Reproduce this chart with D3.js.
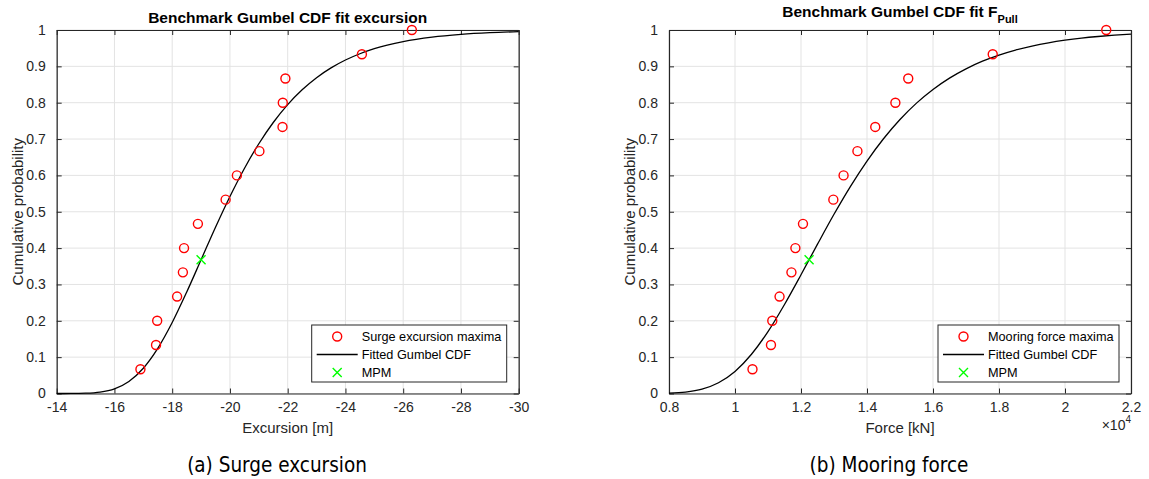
<!DOCTYPE html>
<html>
<head>
<meta charset="utf-8">
<script src="https://cdn.jsdelivr.net/npm/d3@7/dist/d3.min.js"></script>
<style>
    body { margin: 0; background: #fff; }
    svg { font-family: 'Liberation Sans', Arial, Helvetica, sans-serif; }
</style>
</head>
<body>
<svg id="chart" width="1149" height="479"></svg>
<script>
// empirical probabilities of the 15 ranked maxima
const probLevels = [0.0667, 0.1333, 0.2, 0.2667, 0.3333, 0.4, 0.4667, 0.5333, 0.6, 0.6667, 0.7333, 0.8, 0.8667, 0.9333, 1];

// (a) surge excursion [m]
const surgeMaxima = [-16.90, -17.44, -17.48, -18.17, -18.37, -18.41, -18.89, -19.85, -20.24, -21.02, -21.82, -21.83, -21.92, -24.57, -26.30];
const surgeCurveX = [-14, -14.5, -15, -15.5, -16, -16.5, -17, -17.5, -18, -18.5, -19, -19.5, -20, -20.5, -21, -21.5, -22, -22.5, -23, -23.5, -24, -24.5, -25, -26, -27, -28, -29, -30];
const surgeCurveP = [0.0000, 0.0001, 0.0008, 0.0038, 0.0129, 0.0332, 0.0696, 0.1242, 0.1953, 0.2786, 0.3679, 0.4572, 0.5419, 0.6191, 0.6871, 0.7455, 0.7947, 0.8354, 0.8687, 0.8957, 0.9174, 0.9347, 0.9486, 0.9681, 0.9804, 0.9879, 0.9926, 0.9955];
const surgeMPM = [-19.0, 0.3679];
const surgeTicks = [-14, -16, -18, -20, -22, -24, -26, -28, -30];

// (b) mooring force [kN]
const forceMaxima = [10530, 11090, 11130, 11350, 11710, 11830, 12060, 12980, 13290, 13710, 14250, 14860, 15250, 17810, 21250];
const forceCurveX = [8000, 8500, 9000, 9500, 10000, 10500, 11000, 11500, 12000, 12500, 13000, 13500, 14000, 14500, 15000, 15500, 16000, 16500, 17000, 17500, 18000, 18500, 19000, 19500, 20000, 20500, 21000, 21500, 22000];
const forceCurveP = [0.0009, 0.0038, 0.0119, 0.0295, 0.0607, 0.1080, 0.1703, 0.2449, 0.3266, 0.4108, 0.4930, 0.5699, 0.6395, 0.7008, 0.7538, 0.7988, 0.8364, 0.8676, 0.8932, 0.9142, 0.9311, 0.9449, 0.9559, 0.9648, 0.9719, 0.9776, 0.9821, 0.9858, 0.9887];
const forceMPM = [12245, 0.3679];
const forceTicks = [8000, 10000, 12000, 14000, 16000, 18000, 20000, 22000];

const probTicks = [0, 0.1, 0.2, 0.3, 0.4, 0.5, 0.6, 0.7, 0.8, 0.9, 1];

const axisColor = '#262626',
      gridColor = '#e3e3e3';

// plain hyphen for negatives, like the original
const numFmt = d => String(+d.toFixed(4));

const svg = d3.select('#chart');

const drawPanel = (cfg) => {
    const xScale = d3.scaleLinear().domain(cfg.xDomain).range([cfg.left, cfg.right]);
    const yScale = d3.scaleLinear().domain([0, 1]).range([cfg.bottom, cfg.top]);

    const g = svg.append('g');

    // grid
    g.selectAll('.grid-x')
        .data(cfg.xTicks)
        .enter()
        .append('line')
        .attr('x1', d => xScale(d)).attr('x2', d => xScale(d))
        .attr('y1', cfg.top).attr('y2', cfg.bottom)
        .attr('stroke', gridColor).attr('stroke-width', 1);

    g.selectAll('.grid-y')
        .data(probTicks)
        .enter()
        .append('line')
        .attr('x1', cfg.left).attr('x2', cfg.right)
        .attr('y1', d => yScale(d)).attr('y2', d => yScale(d))
        .attr('stroke', gridColor).attr('stroke-width', 1);

    // axes, ticks inside on all four sides
    const xBottom = d3.axisBottom(xScale).tickValues(cfg.xTicks).tickSizeInner(-5).tickSizeOuter(0).tickPadding(9).tickFormat(cfg.xFormat);
    const xTop = d3.axisTop(xScale).tickValues(cfg.xTicks).tickSizeInner(-5).tickSizeOuter(0).tickFormat('');
    const yLeft = d3.axisLeft(yScale).tickValues(probTicks).tickSizeInner(-5).tickSizeOuter(0).tickPadding(11).tickFormat(numFmt);
    const yRight = d3.axisRight(yScale).tickValues(probTicks).tickSizeInner(-5).tickSizeOuter(0).tickFormat('');

    const styleAxis = sel => {
        sel.attr('font-family', null).attr('font-size', null);
        sel.select('.domain').attr('stroke', axisColor).attr('stroke-width', 1.2);
        sel.selectAll('.tick line').attr('stroke', axisColor).attr('stroke-width', 1);
        sel.selectAll('.tick text').attr('fill', axisColor).attr('font-size', '14px');
    };

    g.append('g').attr('transform', `translate(0,${cfg.bottom})`).call(xBottom).call(styleAxis);
    g.append('g').attr('transform', `translate(0,${cfg.top})`).call(xTop).call(styleAxis);
    g.append('g').attr('transform', `translate(${cfg.left},0)`).call(yLeft).call(styleAxis);
    g.append('g').attr('transform', `translate(${cfg.right},0)`).call(yRight).call(styleAxis);

    // fitted curve
    const line = d3.line()
        .x(d => xScale(d[0]))
        .y(d => yScale(d[1]))
        .curve(d3.curveMonotoneX);

    g.append('path')
        .datum(cfg.curveX.map((x, i) => [x, cfg.curveP[i]]))
        .attr('d', line)
        .attr('fill', 'none')
        .attr('stroke', '#000')
        .attr('stroke-width', 1.3);

    // maxima
    g.selectAll('.maxima')
        .data(cfg.maxima.map((x, i) => [x, probLevels[i]]))
        .enter()
        .append('circle')
        .attr('cx', d => xScale(d[0]))
        .attr('cy', d => yScale(d[1]))
        .attr('r', 4.5)
        .attr('fill', 'none')
        .attr('stroke', '#ff0000')
        .attr('stroke-width', 1.4);

    // MPM cross
    const cross = (sel, cx, cy, s) => {
        sel.append('path')
            .attr('d', `M${cx - s},${cy - s}L${cx + s},${cy + s}M${cx - s},${cy + s}L${cx + s},${cy - s}`)
            .attr('stroke', '#00ff00')
            .attr('stroke-width', 1.4)
            .attr('fill', 'none');
    };
    cross(g, xScale(cfg.mpm[0]), yScale(cfg.mpm[1]), 4.5);

    // labels
    g.append('text')
        .attr('x', (cfg.left + cfg.right) / 2)
        .attr('y', 433)
        .attr('text-anchor', 'middle')
        .attr('font-size', '15px')
        .attr('fill', axisColor)
        .text(cfg.xLabel);

    g.append('text')
        .attr('transform', `translate(${cfg.left - 39},${(cfg.top + cfg.bottom) / 2}) rotate(-90)`)
        .attr('text-anchor', 'middle')
        .attr('dy', '0.35em')
        .attr('font-size', '15px')
        .attr('fill', axisColor)
        .text('Cumulative probability');

    const title = g.append('text')
        .attr('x', (cfg.left + cfg.right) / 2)
        .attr('y', cfg.titleY)
        .attr('text-anchor', 'middle')
        .attr('font-size', '15.5px')
        .attr('font-weight', 'bold')
        .attr('fill', '#000')
        .text(cfg.title);
    if (cfg.titleSub) {
        title.append('tspan')
            .attr('dy', 6)
            .attr('font-size', '11px')
            .text(cfg.titleSub);
    }

    // caption under the panel
    g.append('text')
        .attr('x', cfg.captionX)
        .attr('y', 471.5)
        .attr('text-anchor', 'middle')
        .style('font-family', "'DejaVu Sans Condensed', 'DejaVu Sans', sans-serif")
        .style('font-stretch', 'condensed')
        .style('font-size', '20.5px')
        .attr('fill', '#000')
        .text(cfg.caption);

    // legend
    const lgX = cfg.right - 12 - cfg.legendWidth,
          lgY = 325,
          rowY = [11.5, 29.5, 47.5];
    const lg = g.append('g').attr('transform', `translate(${lgX},${lgY})`);
    lg.append('rect')
        .attr('width', cfg.legendWidth)
        .attr('height', 57)
        .attr('fill', '#fff')
        .attr('stroke', axisColor)
        .attr('stroke-width', 1);
    lg.append('circle')
        .attr('cx', 25.5).attr('cy', rowY[0]).attr('r', 4.5)
        .attr('fill', 'none').attr('stroke', '#ff0000').attr('stroke-width', 1.4);
    lg.append('line')
        .attr('x1', 5).attr('x2', 46).attr('y1', rowY[1]).attr('y2', rowY[1])
        .attr('stroke', '#000').attr('stroke-width', 1.3);
    cross(lg, 25.5, rowY[2], 4.5);
    lg.selectAll('.lg-text')
        .data(cfg.legendLabels)
        .enter()
        .append('text')
        .attr('x', 50)
        .attr('y', (d, i) => rowY[i])
        .attr('dy', '0.35em')
        .attr('font-size', '12.7px')
        .attr('fill', '#000')
        .text(d => d);

    if (cfg.exponent) {
        const ex = g.append('text')
            .attr('x', cfg.right)
            .attr('y', 430)
            .attr('text-anchor', 'end')
            .attr('font-size', '14px')
            .attr('fill', axisColor)
            .text('\u00d710');
        ex.append('tspan')
            .attr('dy', -7)
            .attr('font-size', '10px')
            .text(cfg.exponent);
    }
};

drawPanel({
    left: 56.7, right: 518.7, top: 30, bottom: 393.5,
    xDomain: [-14, -30],
    xTicks: surgeTicks,
    xFormat: numFmt,
    xLabel: 'Excursion [m]',
    title: 'Benchmark Gumbel CDF fit excursion',
    titleY: 23,
    curveX: surgeCurveX,
    curveP: surgeCurveP,
    maxima: surgeMaxima,
    mpm: surgeMPM,
    legendWidth: 195,
    legendLabels: ['Surge excursion maxima', 'Fitted Gumbel CDF', 'MPM'],
    caption: '(a) Surge excursion',
    captionX: 277
});

drawPanel({
    left: 669, right: 1131, top: 30, bottom: 393.5,
    xDomain: [8000, 22000],
    xTicks: forceTicks,
    xFormat: d => numFmt(d / 10000),
    xLabel: 'Force [kN]',
    title: 'Benchmark Gumbel CDF fit F',
    titleSub: 'Pull',
    titleY: 16.5,
    curveX: forceCurveX,
    curveP: forceCurveP,
    maxima: forceMaxima,
    mpm: forceMPM,
    legendWidth: 181,
    legendLabels: ['Mooring force maxima', 'Fitted Gumbel CDF', 'MPM'],
    caption: '(b) Mooring force',
    captionX: 889,
    exponent: '4'
});
</script>
</body>
</html>
